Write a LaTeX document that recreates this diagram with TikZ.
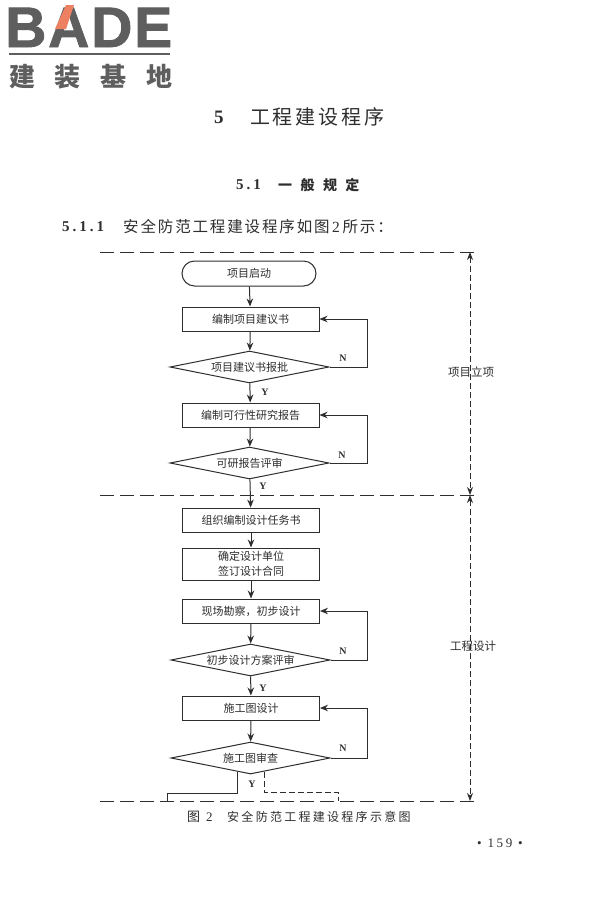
\documentclass[tikz,border=0pt]{standalone}
\usepackage{fontspec}
\setmainfont{Liberation Serif}
\newfontfamily\logofont[BoldFeatures={FakeBold=1.5}]{Liberation Sans}
\newfontfamily\cjkbox{Noto Sans CJK SC}
\newfontfamily\cjktitle[LetterSpace=14]{Noto Sans CJK SC}
\newfontfamily\cjkhead[LetterSpace=60]{Noto Sans CJK SC}
\newfontfamily\cjkcap[LetterSpace=19]{Noto Sans CJK SC}
\newfontfamily\cjkline[LetterSpace=12]{Noto Sans CJK SC}
\newfontfamily\cjklogo[LetterSpace=76]{Noto Sans CJK SC}
\newfontfamily\numwide[LetterSpace=20]{Liberation Serif}
\usetikzlibrary{shapes.geometric,shapes.misc,arrows.meta}
\definecolor{ink}{gray}{0.18}
\definecolor{logogray}{gray}{0.37}
\definecolor{logoorange}{RGB}{238,128,98}
\tikzset{
  every node/.style={text=ink,inner sep=0pt},
  stepbox/.style={draw=ink,line width=1pt,minimum width=137pt,font=\cjkbox\fontsize{11}{15}\selectfont,align=center},
  startbox/.style={stepbox,rounded rectangle,minimum width=134pt,minimum height=25pt},
  decide/.style={draw=ink,line width=1pt,diamond,aspect=5,minimum width=159pt,minimum height=32pt,font=\cjkbox\fontsize{11}{13}\selectfont},
  arr/.style={draw=ink,line width=1pt,-{Stealth[length=8pt,width=6.5pt]}},
  flow/.style={draw=ink,line width=1pt},
  phase/.style={draw=ink,line width=1pt,dash pattern=on 14pt off 6pt},
  dimline/.style={draw=ink,line width=0.9pt,dash pattern=on 6pt off 3pt,{Stealth[length=8pt,width=6pt]}-{Stealth[length=8pt,width=6pt]}},
  yn/.style={font=\bfseries\fontsize{10}{10}\selectfont},
  side/.style={font=\cjkbox\fontsize{11.5}{13}\selectfont},
  bigletter/.style={text=logogray,anchor=base west,font=\logofont\bfseries\fontsize{57}{57}\selectfont},
}
\begin{document}
\begin{tikzpicture}[x=1pt,y=-1pt]
\useasboundingbox (0,0) rectangle (600,900);
\fill[white] (0,0) rectangle (600,900);
% logo
\node[bigletter] (lb) at (5,47) {B};
\node[bigletter] (la) at (48,47) {A};
\node[bigletter] (ld) at (91,47) {D};
\node[bigletter] (le) at (134,47) {E};
\fill[logoorange] (66,5) -- (74,5) -- (66,29) -- (55,29) -- cycle;
\fill[logogray] (9,53) rectangle (170,55);
\node[anchor=west,text=logogray,font=\cjklogo\bfseries\fontsize{26}{26}\selectfont] (lt) at (9,77) {建装基地};
% headings
\node[anchor=west,font=\bfseries\fontsize{19}{19}\selectfont] (t5) at (214,117) {5};
\node[anchor=west,font=\cjktitle\fontsize{20}{20}\selectfont] (t) at (250,117) {工程建设程序};
\node[anchor=west,font=\numwide\bfseries\fontsize{15}{15}\selectfont] (h5) at (236,185) {5.1};
\node[anchor=west,font=\cjkhead\bfseries\fontsize{14}{14}\selectfont] (h) at (278,185) {一般规定};
\node[anchor=west,font=\numwide\bfseries\fontsize{15}{15}\selectfont] (s5) at (62,227) {5.1.1};
\node[anchor=west,font=\cjkline\fontsize{15.5}{15}\selectfont] (s) at (123,227) {安全防范工程建设程序如图\,{\rmfamily 2}\,所示：};
% phase lines
\coordinate (pa) at (100,252); \coordinate (pb) at (476,252);
\coordinate (qa) at (100,495); \coordinate (qb) at (476,495);
\coordinate (ra) at (100,801); \coordinate (rb) at (476,801);
\coordinate (da) at (470,252); \coordinate (db) at (470,495); \coordinate (dc) at (470,801);
\draw[phase] (pa) -- (pb);
\draw[phase] (qa) -- (qb);
\draw[phase] (ra) -- (rb);
\draw[dimline] (da) -- (db);
\draw[dimline] (db) -- (dc);
\node[side] (lx) at (471,372) {项目立项};
\node[side] (lg) at (473,646) {工程设计};
% nodes
\node[startbox] (st) at (249,273.5) {项目启动};
\node[stepbox,minimum height=24pt] (b1) at (250.5,319) {编制项目建议书};
\node[decide] (d1) at (249.5,367) {项目建议书报批};
\node[stepbox,minimum height=24pt] (b2) at (250.5,415) {编制可行性研究报告};
\node[decide] (d2) at (249.5,463) {可研报告评审};
\node[stepbox,minimum height=24pt] (b3) at (251,520) {组织编制设计任务书};
\node[stepbox,minimum height=32pt] (b4) at (251,564) {确定设计单位\\签订设计合同};
\node[stepbox,minimum height=24pt] (b5) at (251,611) {现场勘察，初步设计};
\node[decide] (d3) at (250.5,660) {初步设计方案评审};
\node[stepbox,minimum height=24pt] (b6) at (251,708) {施工图设计};
\node[decide] (d4) at (250.5,758) {施工图审查};
% connectors
\draw[arr] (st) -- (b1);
\draw[arr] (b1) -- (d1);
\draw[arr] (d1) -- (b2);
\draw[arr] (b2) -- (d2);
\draw[arr] (d2) -- (b3);
\draw[arr] (b3) -- (b4);
\draw[arr] (b4) -- (b5);
\draw[arr] (b5) -- (d3);
\draw[arr] (d3) -- (b6);
\draw[arr] (b6) -- (d4);
\draw[arr] (d1.east) -- ++(38,0) |- (b1.east);
\draw[arr] (d2.east) -- ++(38,0) |- (b2.east);
\draw[arr] (d3.east) -- ++(37,0) |- (b5.east);
\draw[arr] (d4.east) -- ++(37,0) |- (b6.east);
% exits of the last decision
\coordinate (ea) at (237,771.5); \coordinate (eb) at (237,793); \coordinate (ec) at (167,793); \coordinate (ed) at (167,801);
\coordinate (fa) at (264,771.5); \coordinate (fb) at (264,792); \coordinate (fc) at (338,792); \coordinate (fd) at (338,801);
\draw[flow] (ea) -- (eb) -- (ec) -- (ed);
\draw[flow,dash pattern=on 6pt off 3pt] (fa) -- (fb) -- (fc) -- (fd);
% labels
\node[yn] (n1) at (343,358) {N};
\node[yn] (y1) at (265,392) {Y};
\node[yn] (n2) at (342,455) {N};
\node[yn] (y2) at (263,486) {Y};
\node[yn] (n3) at (343,651) {N};
\node[yn] (y3) at (263,688) {Y};
\node[yn] (n4) at (343,748) {N};
\node[yn] (y4) at (252,784) {Y};
% caption
\node[anchor=west,font=\cjkbox\fontsize{13}{13}\selectfont] (c1) at (187,817) {图};
\node[anchor=west,font=\fontsize{13}{13}\selectfont] (c2) at (206,817) {2};
\node[anchor=west,font=\cjkcap\fontsize{12}{12}\selectfont] (c3) at (227,817) {安全防范工程建设程序示意图};
\node[anchor=west,font=\numwide\fontsize{13}{13}\selectfont] (pg) at (477,843) {• 159 •};
\end{tikzpicture}
\end{document}
